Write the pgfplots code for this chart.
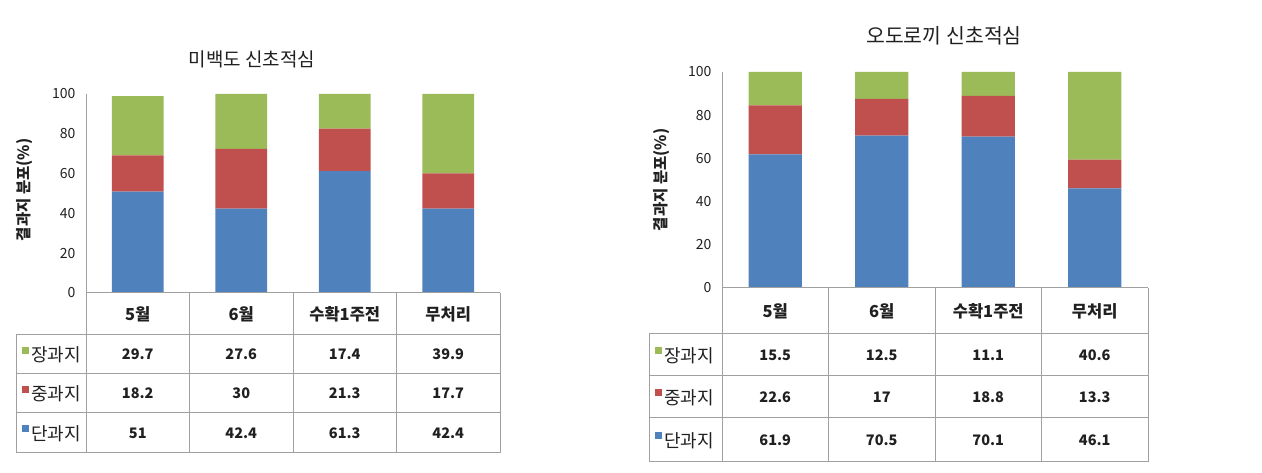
\documentclass[border=0pt]{standalone}
\usepackage{fontspec}
\setmainfont{Noto Sans CJK KR}
\usepackage{pgfplots}
\usepackage{pgfplotstable}
\pgfplotsset{compat=1.18}
\definecolor{cblue}{HTML}{4F81BD}
\definecolor{cred}{HTML}{C0504D}
\definecolor{cgreen}{HTML}{9BBB59}
\definecolor{cline}{HTML}{A0A0A0}
\definecolor{ctext}{HTML}{202020}

\pgfplotstableread{
x dan jung jang
0 51 18.2 29.7
1 42.4 30 27.6
2 61.3 21.3 17.4
3 42.4 17.7 39.9
}\leftdata
\pgfplotstableread{
x dan jung jang
0 61.9 22.6 15.5
1 70.5 17 12.5
2 70.1 18.8 11.1
3 46.1 13.3 40.6
}\rightdata

\pgfplotsset{barchart/.style={
  scale only axis, ybar stacked, bar width=0.5,
  xmin=-0.5, xmax=3.5, ymin=0, ymax=100,
  ytick={0,20,40,60,80,100}, xtick=\empty,
  axis y line*=left, axis x line=none,
  y axis line style={draw=cline},
  major tick length=0pt,
  /pgf/number format/assume math mode=true,
  yticklabel style={font=\fontsize{14}{15}\selectfont, text=ctext, xshift=-7pt},
  clip=false,
}}

% #1 data, #2 left x, #3 axis x, #4 category width, #5 top, #6 header bottom, #7 row1 bottom, #8 row2 bottom, #9 row3 bottom
\newcommand\drawtable[9]{%
  \pgfmathsetmacro\xr{#3+4*#4}%
  \pgfmathsetmacro\yh{(#5+#6)/2}%
  \pgfmathsetmacro\ya{(#6+#7)/2}%
  \pgfmathsetmacro\yb{(#7+#8)/2}%
  \pgfmathsetmacro\yc{(#8+#9)/2}%
  \draw[cline, line width=1pt] (#3,#5) -- (\xr,#5);
  \draw[cline, line width=1pt] (#2,#6) -- (\xr,#6);
  \draw[cline, line width=1pt] (#2,#7) -- (\xr,#7);
  \draw[cline, line width=1pt] (#2,#8) -- (\xr,#8);
  \draw[cline, line width=1pt] (#2,#9) -- (\xr,#9);
  \draw[cline, line width=1pt] (#2,#6) -- (#2,#9);
  \foreach \i in {0,1,2,3,4} {\draw[cline, line width=1pt] ({#3+\i*#4},#5) -- ({#3+\i*#4},#9);}
  \foreach \i/\lab in {0/5월,1/6월,2/수확1주전,3/무처리}
    {\node[font=\bfseries\fontsize{16.5}{18}\selectfont, text=ctext] at ({#3+(\i+0.5)*#4},\yh) {\lab};}
  \foreach \col/\yy in {jang/\ya, jung/\yb, dan/\yc} {
    \foreach \i in {0,1,2,3} {
      \pgfplotstablegetelem{\i}{\col}\of#1
      \node[font=\bfseries\fontsize{14.5}{16}\selectfont, text=ctext] at ({#3+(\i+0.5)*#4},\yy) {\pgfplotsretval};
    }
  }
  \foreach \yy/\cc/\lab in {\ya/cgreen/장과지, \yb/cred/중과지, \yc/cblue/단과지} {
    \fill[\cc] ({#2+6},{\yy+0.5}) rectangle ++(7,7);
    \node[anchor=west, inner sep=0pt, font=\fontsize{18}{19}\selectfont, text=ctext] at ({#2+15},{\yy-0.5}) {\lab};
  }
}

\begin{document}
\begin{tikzpicture}[x=1pt,y=1pt]
\useasboundingbox (0,0) rectangle (1262,473);

% ---------- left chart ----------
\node[font=\fontsize{19}{21}\selectfont, text=ctext] at (252,414) {미백도 신초적심};
\node[rotate=90, font=\bfseries\fontsize{15.5}{17}\selectfont, text=ctext] at (25,283) {결과지 분포(\%)};
\begin{axis}[barchart, at={(86pt,180pt)}, anchor=south west, width=414pt, height=199pt]
  \addplot[fill=cblue, draw=none] table[x=x, y=dan] {\leftdata};
  \addplot[fill=cred, draw=none] table[x=x, y=jung] {\leftdata};
  \addplot[fill=cgreen, draw=none] table[x=x, y=jang] {\leftdata};
\end{axis}
\drawtable{\leftdata}{16}{86}{103.5}{180}{138}{99}{60}{20}

% ---------- right chart ----------
\node[font=\fontsize{20.5}{22}\selectfont, text=ctext] at (944,437) {오도로끼 신초적심};
\node[rotate=90, font=\bfseries\fontsize{15.5}{17}\selectfont, text=ctext] at (662,293) {결과지 분포(\%)};
\begin{axis}[barchart, at={(722pt,185pt)}, anchor=south west, width=426pt, height=216pt]
  \addplot[fill=cblue, draw=none] table[x=x, y=dan] {\rightdata};
  \addplot[fill=cred, draw=none] table[x=x, y=jung] {\rightdata};
  \addplot[fill=cgreen, draw=none] table[x=x, y=jang] {\rightdata};
\end{axis}
\drawtable{\rightdata}{649}{722}{106.5}{185}{139}{97}{55}{11}
\end{tikzpicture}
\end{document}
